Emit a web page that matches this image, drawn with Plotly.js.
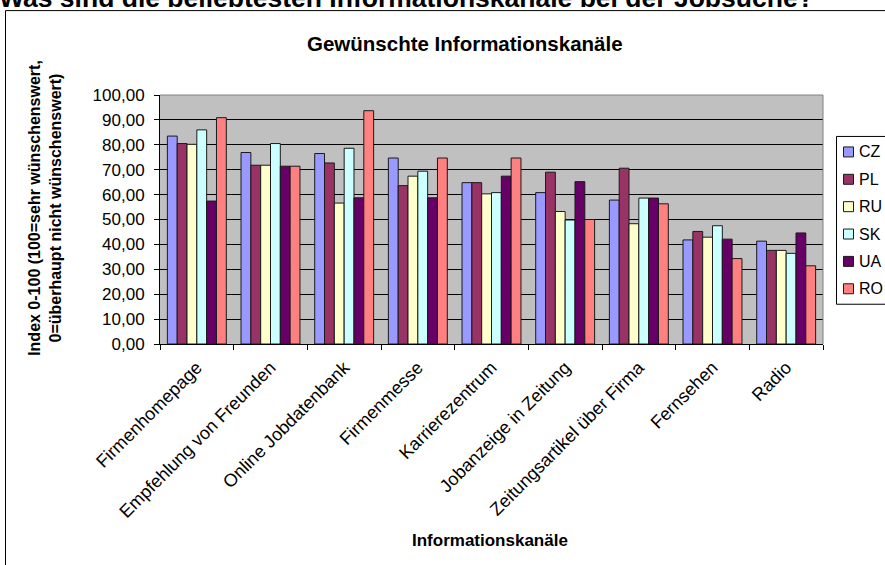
<!DOCTYPE html>
<html>
<head>
<meta charset="utf-8">
<script src="https://cdn.plot.ly/plotly-3.0.1.min.js"></script>
<style>html,body{margin:0;padding:0;background:#fff;overflow:hidden}#chart{width:885px;height:565px}</style>
</head>
<body>
<div id="chart"></div>
<script>
const categories = ['Firmenhomepage','Empfehlung von Freunden','Online Jobdatenbank','Firmenmesse','Karrierezentrum','Jobanzeige in Zeitung','Zeitungsartikel über Firma','Fernsehen','Radio'];
const seriesNames = ['CZ','PL','RU','SK','UA','RO'];
const CZ = [83.5, 76.9, 76.5, 74.7, 64.8, 60.8, 57.8, 41.8, 41.3];
const PL = [80.5, 71.8, 72.7, 63.6, 64.8, 69.0, 70.6, 45.2, 37.6];
const RU = [80.2, 71.8, 56.6, 67.4, 60.3, 53.2, 48.3, 42.9, 37.6];
const SK = [86.0, 80.5, 78.6, 69.4, 60.8, 49.8, 58.6, 47.5, 36.4];
const UA = [57.4, 71.4, 58.7, 58.7, 67.4, 65.2, 58.6, 42.1, 44.6];
const RO = [90.9, 71.4, 93.7, 74.7, 74.7, 50.0, 56.3, 34.3, 31.4];
const colors = ['#9999FF','#993366','#FFFFCC','#CCFFFF','#660066','#FF8080'];
const seriesValues = [CZ, PL, RU, SK, UA, RO];

const FONT = 'Liberation Sans, Arial, sans-serif';

const traces = seriesValues.map((vals, i) => ({
  type: 'bar',
  name: seriesNames[i],
  x: categories,
  y: vals,
  showlegend: false,
  marker: {color: colors[i], line: {color: '#1a1a1a', width: 1}}
}));

// pixel helpers for plot area (l=160, r=823, t=95, b=344.3)
const L = 160, R = 823, T = 95, B = 344.3;
const px = x => (x - L) / (R - L);
const py = y => (B - y) / (B - T);

const shapes = [
  {type: 'line', xref: 'paper', yref: 'paper', x0: 0, x1: 1, y0: 1, y1: 1, line: {color: '#808080', width: 1}},
  {type: 'line', xref: 'paper', yref: 'paper', x0: 1, x1: 1, y0: 0, y1: 1, line: {color: '#808080', width: 1}},
  {type: 'rect', xref: 'paper', yref: 'paper', x0: px(5.5), x1: px(900), y0: py(600), y1: py(10.5), line: {color: '#000', width: 1}, layer: 'below'},
  // legend box
  {type: 'rect', xref: 'paper', yref: 'paper', x0: px(836.5), x1: px(900), y0: py(304.5), y1: py(136.5), fillcolor: '#fff', line: {color: '#000', width: 1}}
];
const annotations = [
  {text: '<b>Was sind die beliebtesten Informationskanäle bei der Jobsuche?</b>', xref: 'paper', yref: 'paper',
   x: px(-3), xanchor: 'left', y: py(-2), yanchor: 'middle', showarrow: false,
   font: {family: FONT, size: 26.5, color: '#000'}},
  {text: '<b>Gewünschte Informationskanäle</b>', xref: 'paper', yref: 'paper',
   x: px(465), xanchor: 'center', y: py(43), yanchor: 'middle', showarrow: false,
   font: {family: FONT, size: 20.5, color: '#000'}},
  {text: '<b>Informationskanäle</b>', xref: 'paper', yref: 'paper',
   x: px(490), xanchor: 'center', y: py(541), yanchor: 'middle', showarrow: false,
   font: {family: FONT, size: 17, color: '#000'}},
  {text: '<b>Index 0-100 (100=sehr wünschenswert,<br>0=überhaupt nicht wünschenswert)</b>', xref: 'paper', yref: 'paper',
   x: px(45), xanchor: 'center', y: py(208), yanchor: 'middle', showarrow: false, textangle: -90,
   font: {family: FONT, size: 16, color: '#000'}}
];
// legend entries built from the series names and colours
seriesNames.forEach((name, i) => {
  const cy = 152 + i * 27.4;
  shapes.push({type: 'rect', xref: 'paper', yref: 'paper', x0: px(843.5), x1: px(853.5), y0: py(cy + 5), y1: py(cy - 5),
    fillcolor: colors[i], line: {color: '#1a1a1a', width: 1}});
  annotations.push({text: name, xref: 'paper', yref: 'paper', x: px(857), xanchor: 'left', y: py(cy), yanchor: 'middle',
    showarrow: false, font: {family: FONT, size: 16, color: '#000'}});
});

const layout = {
  width: 885, height: 565, autosize: false,
  margin: {l: L, r: 885 - R, t: T, b: 565 - B, pad: 0, autoexpand: false},
  paper_bgcolor: '#ffffff',
  plot_bgcolor: '#C0C0C0',
  separators: ',.',
  font: {family: FONT, color: '#000', size: 16},
  bargap: 0.2, bargroupgap: 0,
  showlegend: false,
  xaxis: {
    type: 'category',
    tickangle: -45,
    ticks: 'outside', tickson: 'boundaries', ticklen: 5, tickcolor: '#000',
    showline: true, linecolor: '#000', linewidth: 1,
    showgrid: false,
    ticklabelstandoff: 5,
    tickfont: {family: FONT, size: 18, color: '#000'},
    fixedrange: true
  },
  yaxis: {
    range: [0, 100], dtick: 10, tick0: 0,
    tickformat: '.2f',
    ticks: 'outside', ticklen: 5, tickcolor: '#000',
    showline: true, linecolor: '#000', linewidth: 1,
    showgrid: true, gridcolor: '#000', gridwidth: 1,
    zeroline: false,
    ticklabelstandoff: 6,
    tickfont: {family: FONT, size: 17, color: '#000'},
    fixedrange: true
  },
  shapes: shapes,
  annotations: annotations
};

Plotly.newPlot('chart', traces, layout, {displayModeBar: false, staticPlot: true});
</script>
</body>
</html>
